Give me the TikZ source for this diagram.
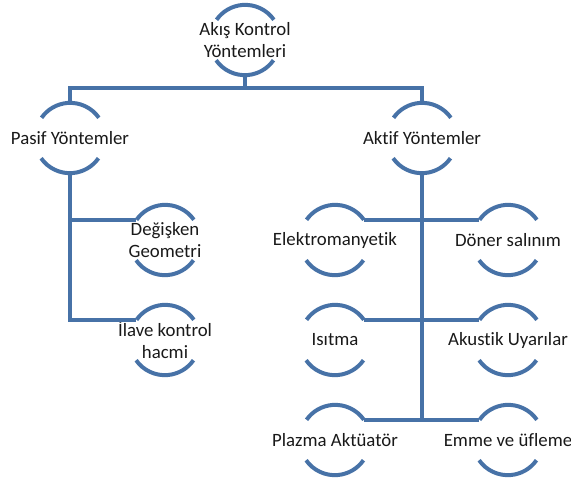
\documentclass[tikz,border=0pt]{standalone}
\usepackage{fontspec}
\setmainfont[RawFeature={-liga;-clig;-calt;-dlig}]{Carlito}
\definecolor{hatmavi}{RGB}{71,114,167}
\begin{document}
\begin{tikzpicture}[x=0.75pt, y=-0.75pt,
  link/.style={line width=3pt, hatmavi},
  blob/.style={circle, minimum size=52.5pt, inner sep=0pt},
  yazi/.style={font=\fontsize{14.1}{16}\selectfont, align=center, text=black!90}]
\useasboundingbox (0,0) rectangle (571,483);
% Ana baslik
\node[blob, label={[yazi]center:Akış Kontrol\\Yöntemleri}] (akis) at (245,40) {};
\coordinate (bar) at (245,88);
% Pasif
\node[blob, label={[yazi]center:Pasif Yöntemler}] (pasif) at (70,138) {};
\node[blob, label={[yazi]center:Değişken\\Geometri}] (degisken) at (165,240) {};
\node[blob, label={[yazi]center:İlave kontrol\\hacmi}] (ilave) at (165,340) {};
% Aktif
\node[blob, label={[yazi]center:Aktif Yöntemler}] (aktif) at (422,138) {};
\node[blob, label={[yazi]center:Elektromanyetik}] (elektro) at (335,240) {};
\node[blob, label={[yazi]center:Döner salınım}] (doner) at (508,240) {};
\node[blob, label={[yazi]center:Isıtma}] (isitma) at (335,340) {};
\node[blob, label={[yazi]center:Akustik Uyarılar}] (akustik) at (508,340) {};
\node[blob, label={[yazi]center:Plazma Aktüatör}] (plazma) at (335,440) {};
\node[blob, label={[yazi]center:Emme ve üfleme}] (emme) at (508,440) {};
% Yaylar
\foreach \n in {akis,pasif,aktif,degisken,ilave,elektro,doner,isitma,akustik,plazma,emme}
  \draw[link] (\n.35) arc[start angle=35, end angle=145, radius=26.25pt]
              (\n.215) arc[start angle=215, end angle=325, radius=26.25pt];
% Baglantilar
\draw[link] (akis.south) -- (bar);
\draw[link] (pasif.north) |- (bar) -| (aktif.north);
\draw[link] (pasif.south) |- (degisken.145);
\draw[link] (pasif.south) |- (ilave.145);
\draw[link] (aktif.south) |- (plazma.35);
\draw[link] (aktif.south) |- (emme.145);
\draw[link] (elektro.35) -- (doner.145);
\draw[link] (isitma.35) -- (akustik.145);
\end{tikzpicture}
\end{document}
